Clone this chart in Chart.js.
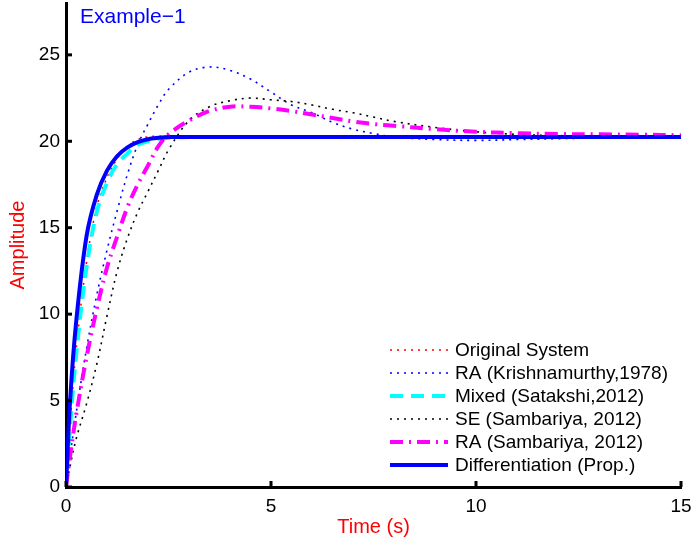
<!DOCTYPE html>
<html>
<head>
<meta charset="utf-8">
<script src="https://cdn.jsdelivr.net/npm/chart.js@4"></script>
<style>
  body { margin: 0; background: #fff; }
</style>
</head>
<body>
<canvas id="chart" width="692" height="546"></canvas>
<script>
// step response data
var time = [0, 0.1, 0.25, 0.5, 0.75, 1, 1.25, 1.5, 1.75, 2, 2.25, 2.5, 3, 3.5, 4, 4.5, 5, 5.5, 6, 6.5, 7, 7.5, 8, 9, 10, 11, 12, 13, 14, 15];

var original = [0, 3.6, 8.0, 13.0, 16.2, 17.9, 19.0, 19.7, 20.1, 20.25, 20.3, 20.25, 20.2, 20.2, 20.2, 20.2, 20.2, 20.2, 20.2, 20.2, 20.2, 20.2, 20.2, 20.2, 20.2, 20.2, 20.2, 20.2, 20.2, 20.2];
var raKrishna = [0, 1.8, 4.3, 8.0, 11.1, 13.7, 16.0, 18.1, 19.8, 21.0, 22.1, 23.0, 24.0, 24.3, 24.1, 23.6, 22.85, 22.1, 21.65, 21.1, 20.7, 20.45, 20.25, 20.1, 20.05, 20.1, 20.15, 20.2, 20.25, 20.25];
var mixed = [0, 3.5, 7.7, 12.7, 15.9, 17.6, 18.7, 19.3, 19.8, 20.0, 20.15, 20.2, 20.25, 20.25, 20.25, 20.25, 20.25, 20.25, 20.25, 20.25, 20.25, 20.25, 20.25, 20.25, 20.25, 20.25, 20.25, 20.25, 20.25, 20.25];
var seSamb = [0, 1.2, 2.8, 4.8, 7.1, 9.9, 12.5, 14.4, 15.9, 17.1, 18.3, 19.5, 21.2, 22.0, 22.35, 22.5, 22.4, 22.3, 22.1, 21.85, 21.65, 21.4, 21.15, 20.8, 20.55, 20.4, 20.33, 20.3, 20.3, 20.3];
var raSamb = [0, 1.8, 4.2, 7.5, 10.3, 12.7, 14.5, 16.2, 17.5, 18.6, 19.7, 20.4, 21.2, 21.75, 22.0, 22.0, 21.9, 21.75, 21.55, 21.35, 21.15, 21.0, 20.9, 20.7, 20.55, 20.47, 20.42, 20.4, 20.38, 20.35];
var diffProp = [0, 5.0, 9.6, 14.5, 16.9, 18.3, 19.15, 19.65, 19.95, 20.12, 20.2, 20.25, 20.25, 20.25, 20.25, 20.25, 20.25, 20.25, 20.25, 20.25, 20.25, 20.25, 20.25, 20.25, 20.25, 20.25, 20.25, 20.25, 20.25, 20.25];

var labels = ["Original System", "RA (Krishnamurthy,1978)", "Mixed (Satakshi,2012)", "SE (Sambariya, 2012)", "RA (Sambariya, 2012)", "Differentiation (Prop.)"];
var xTicks = [0, 5, 10, 15];
var yTicks = [0, 5, 10, 15, 20, 25];

var FONT = "'Liberation Sans', Arial, Helvetica, sans-serif";

function pts(arr) {
  return time.map(function (t, i) { return { x: t, y: arr[i] }; });
}

function series(i, arr, color, width, dash) {
  return {
    label: labels[i],
    data: pts(arr),
    borderColor: color,
    borderWidth: width,
    borderDash: dash,
    borderCapStyle: "butt",
    pointRadius: 0,
    fill: false,
    tension: 0.35,
    order: 10 - i, // later series on top, like matlab
  };
}

// legend inside the axes, bottom right
var legendBox = {
  id: "legendBox",
  afterDraw: function (chart) {
    var ctx = chart.ctx;
    var area = chart.chartArea;
    var x0 = area.right - 291;
    var y0 = area.bottom - 137;
    chart.data.datasets.forEach(function (ds, i) {
      var y = y0 + i * 23;
      ctx.save();
      ctx.strokeStyle = ds.borderColor;
      ctx.lineWidth = ds.borderWidth;
      ctx.setLineDash(ds.borderDash || []);
      ctx.beginPath();
      ctx.moveTo(x0, y);
      ctx.lineTo(x0 + 58, y);
      ctx.stroke();
      ctx.setLineDash([]);
      ctx.fillStyle = "#000";
      ctx.font = "19px " + FONT;
      ctx.textBaseline = "middle";
      ctx.fillText(ds.label, x0 + 65, y + 1);
      ctx.restore();
    });
  },
};

// inward tick marks + "Example-1" label
var axesExtras = {
  id: "axesExtras",
  beforeDraw: function (chart) {
    var ctx = chart.ctx;
    ctx.save();
    ctx.fillStyle = "#fff";
    ctx.fillRect(0, 0, chart.width, chart.height);
    ctx.restore();
  },
  afterDraw: function (chart) {
    var ctx = chart.ctx;
    var xs = chart.scales.x, ys = chart.scales.y;
    var area = chart.chartArea;
    ctx.save();
    ctx.strokeStyle = "#000";
    ctx.lineWidth = 3;
    xTicks.forEach(function (v) {
      var px = xs.getPixelForValue(v);
      ctx.beginPath();
      ctx.moveTo(px, area.bottom);
      ctx.lineTo(px, area.bottom - 6);
      ctx.stroke();
    });
    yTicks.forEach(function (v) {
      var py = ys.getPixelForValue(v);
      ctx.beginPath();
      ctx.moveTo(area.left, py);
      ctx.lineTo(area.left + 6, py);
      ctx.stroke();
    });
    ctx.fillStyle = "#0000ff";
    ctx.font = "21px " + FONT;
    ctx.textBaseline = "middle";
    ctx.fillText("Example\u22121", area.left + 14, area.top + 14);
    ctx.restore();
  },
};

var ctx = document.getElementById("chart");
var myChart = new Chart(ctx, {
  type: "line",
  data: {
    datasets: [
      series(0, original, "#ff0000", 1.6, [2, 5]),
      series(1, raKrishna, "#0000ff", 1.6, [2, 5]),
      series(2, mixed, "#00ffff", 4, [13, 8]),
      series(3, seSamb, "#000000", 1.6, [2, 5]),
      series(4, raSamb, "#ff00ff", 4, [13, 6, 2, 6]),
      series(5, diffProp, "#0000ff", 4, []),
    ],
  },
  options: {
    responsive: false,
    animation: false,
    events: [],
    layout: { padding: { top: 3, right: 11, left: 0, bottom: 0 } },
    plugins: {
      legend: { display: false },
      tooltip: { enabled: false },
    },
    scales: {
      x: {
        type: "linear",
        min: 0,
        max: 15,
        afterFit: function (scale) {
          scale.height = 59;
          scale.paddingLeft = 0;
          scale.paddingRight = 0;
        },
        afterBuildTicks: function (scale) {
          scale.ticks = xTicks.map(function (v) { return { value: v }; });
        },
        grid: { display: false, drawTicks: false },
        border: { display: true, color: "#000", width: 3 },
        ticks: {
          color: "#000",
          padding: 8,
          maxRotation: 0,
          font: { family: FONT, size: 19 },
        },
        title: {
          display: true,
          text: "Time (s)",
          color: "#ff0000",
          font: { family: FONT, size: 20, lineHeight: 1.2 },
          padding: { top: 0, bottom: 7 },
        },
      },
      y: {
        min: 0,
        max: 28,
        afterFit: function (scale) {
          scale.width = 66;
          scale.paddingTop = 0;
          scale.paddingBottom = 0;
        },
        afterBuildTicks: function (scale) {
          scale.ticks = yTicks.map(function (v) { return { value: v }; });
        },
        grid: { display: false, drawTicks: false },
        border: { display: true, color: "#000", width: 3 },
        ticks: {
          color: "#000",
          padding: 6,
          font: { family: FONT, size: 19 },
        },
        title: {
          display: true,
          text: "Amplitude",
          color: "#ff0000",
          font: { family: FONT, size: 20, lineHeight: 1.2 },
          padding: { top: 6, bottom: 0 },
        },
      },
    },
  },
  plugins: [axesExtras, legendBox],
});
</script>
</body>
</html>
